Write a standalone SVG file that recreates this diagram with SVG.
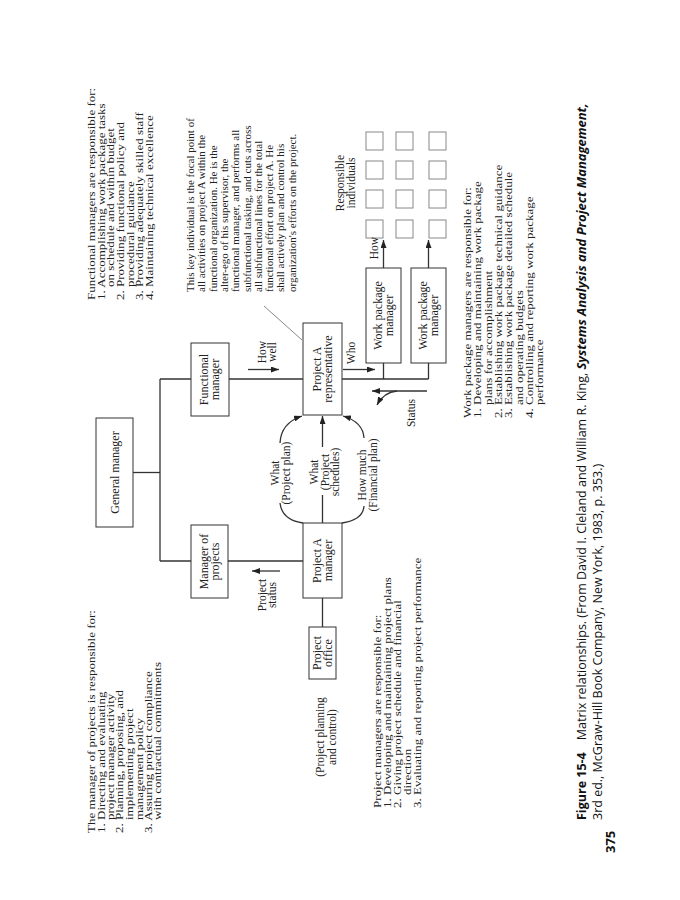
<svg xmlns="http://www.w3.org/2000/svg" width="680" height="900" viewBox="0 0 680 900">
<defs>
<marker id="ah" viewBox="0 0 8 6" refX="8" refY="3" markerWidth="8" markerHeight="6" orient="auto" markerUnits="userSpaceOnUse"><path d="M0,0 L8,3 L0,6 z" fill="#222"/></marker>
<style>
.box{fill:#fff;stroke:#333;stroke-width:1}
.ln{fill:none;stroke:#333;stroke-width:1.3}
.ar{fill:none;stroke:#333;stroke-width:1.3;marker-end:url(#ah)}
.sq{fill:#fff;stroke:#888;stroke-width:1}
.t{font-family:"Liberation Serif","Times New Roman",serif;font-size:11.5px;fill:#222}
.b{font-family:"Liberation Serif","Times New Roman",serif;font-size:12px;fill:#222;text-anchor:middle}
.k{font-family:"Liberation Serif","Times New Roman",serif;font-size:11px;fill:#222}
.n{font-family:"Liberation Serif","Times New Roman",serif;font-size:13px;fill:#222}
.c{text-anchor:middle}
.cap{font-family:"Open Sans","Liberation Sans",sans-serif;font-size:12.5px;fill:#111}
</style>
</defs>
<rect width="680" height="900" fill="#fff"/>
<g transform="matrix(0,-1,1,0,0,900)">
<g id="connectors">
<path class="ln" d="M427.5,133 L427.5,160"/>
<path class="ln" d="M521,160 L339,160"/>
<path class="ln" d="M521,160 L521,428.5"/>
<path class="ln" d="M339,160 L339,303"/>
<path class="ln" d="M537,383.5 L521,383.5"/>
<path class="ln" d="M537,428.5 L521,428.5"/>
<path class="ar" d="M632,383.5 L660,383.5"/>
<path class="ar" d="M632,428.5 L660,428.5"/>
<path class="ln" d="M302,322.5 L273,322.5"/>
<path class="ln" d="M377,322.5 L405,322.5"/>
<path class="ar" d="M453,322.5 L484,322.5"/>
<path class="ar" d="M457,280 Q477,281 484,302"/>
<path class="ln" d="M397,280 Q380,282 377,303"/>
<path class="ar" d="M462,364 Q478,363 484,343"/>
<path class="ln" d="M394,364 Q380,363 377,342"/>
<path class="ar" d="M530.5,248 L530.5,279"/>
<path class="ar" d="M530.5,343 L530.5,375"/>
<path class="ar" d="M329,280 L329,252"/>
<path class="ar" d="M509,427 L509,372"/>
<path class="ar" d="M509,397 Q508,384 495,377"/>
<path d="M594,264 L560,302" fill="none" stroke="#888" stroke-width="1"/>
</g>
<g id="general-manager"><rect class="box" x="373" y="96" width="109" height="37"/><text class="b" x="427.5" y="118.5">General manager</text></g>
<g id="functional-manager"><rect class="box" x="484" y="191" width="73" height="38"/><text class="b" x="520.5" y="208">Functional</text><text class="b" x="520.5" y="219">manager</text></g>
<g id="manager-of-projects"><rect class="box" x="302" y="191" width="73" height="37"/><text class="b" x="338.5" y="207.5">Manager of</text><text class="b" x="338.5" y="218.5">projects</text></g>
<g id="project-a-representative"><rect class="box" x="485" y="303" width="92" height="39"/><text class="b" x="531" y="320.5">Project A</text><text class="b" x="531" y="331.5">representative</text></g>
<g id="project-a-manager"><rect class="box" x="302" y="303" width="75" height="39"/><text class="b" x="339.5" y="320.5">Project A</text><text class="b" x="339.5" y="331.5">manager</text></g>
<g id="project-office"><rect class="box" x="221" y="309" width="52" height="27"/><text class="b" x="247" y="320.5">Project</text><text class="b" x="247" y="331.5">office</text></g>
<g id="work-package-manager-1"><rect class="box" x="537" y="366" width="95" height="35"/><text class="b" x="584.5" y="381.5">Work package</text><text class="b" x="584.5" y="392.5">manager</text></g>
<g id="work-package-manager-2"><rect class="box" x="537" y="411" width="95" height="35"/><text class="b" x="584.5" y="426.5">Work package</text><text class="b" x="584.5" y="437.5">manager</text></g>
<g id="responsible-individuals">
<rect class="sq" x="662" y="366" width="18" height="17"/><rect class="sq" x="692" y="366" width="18" height="17"/><rect class="sq" x="721" y="366" width="18" height="17"/><rect class="sq" x="750" y="366" width="18" height="17"/>
<rect class="sq" x="662" y="396" width="18" height="17"/><rect class="sq" x="692" y="396" width="18" height="17"/><rect class="sq" x="721" y="396" width="18" height="17"/><rect class="sq" x="750" y="396" width="18" height="17"/>
<rect class="sq" x="662" y="429" width="18" height="17"/><rect class="sq" x="692" y="429" width="18" height="17"/><rect class="sq" x="721" y="429" width="18" height="17"/><rect class="sq" x="750" y="429" width="18" height="17"/>
<text class="t c" x="717" y="344">Responsible</text><text class="t c" x="717" y="355">individuals</text>
</g>
<g id="labels">
<text class="t c" x="548" y="266">How</text><text class="t c" x="548" y="276">well</text>
<text class="t c" x="547" y="355">Who</text>
<text class="t c" x="305" y="266">Project</text><text class="t c" x="305" y="276">status</text>
<text class="t c" x="427" y="278.5">What</text><text class="t c" x="427" y="289.5">(Project plan)</text>
<text class="t c" x="428" y="317.5">What</text><text class="t c" x="428" y="328.5">(Project</text><text class="t c" x="428" y="339">schedules)</text>
<text class="t c" x="425" y="365.5">How much</text><text class="t c" x="425" y="376.5">(Financial plan)</text>
<text class="t c" x="487" y="415">Status</text>
<text class="t c" x="652" y="377.5">How</text>
<text class="t c" x="163" y="324">(Project planning</text><text class="t c" x="163" y="336">and control)</text>
</g>
<g id="functional-managers-note" class="n" transform="translate(600,95) scale(1,0.8)">
<text x="0" y="0">Functional managers are responsible for:</text>
<text x="0" y="12.1">1. Accomplishing work package tasks</text>
<text x="13" y="24.2">on schedule and within budget</text>
<text x="0" y="36.4">2. Providing functional policy and</text>
<text x="13" y="48.5">procedural guidance</text>
<text x="0" y="60.6">3. Providing adequately skilled staff</text>
<text x="0" y="72.7">4. Maintaining technical excellence</text>
</g>
<g id="key-individual-note" class="k">
<text x="608" y="194">This key individual is the focal point of</text>
<text x="608" y="205.3">all activities on project A within the</text>
<text x="608" y="216.6">functional organization.  He is the</text>
<text x="608" y="227.9">alter-ego of his supervisor, the</text>
<text x="608" y="239.2">functional manager, and performs all</text>
<text x="608" y="250.5">subfunctional tasking, and cuts across</text>
<text x="608" y="261.8">all subfunctional lines for the total</text>
<text x="608" y="273.1">functional effort on project A.  He</text>
<text x="608" y="284.4">shall actively plan and control his</text>
<text x="608" y="295.7">organization's efforts on the project.</text>
</g>
<g id="manager-of-projects-note" class="n" transform="translate(67,95) scale(1,0.8)">
<text x="0" y="0">The manager of projects is responsible for:</text>
<text x="0" y="11.9">1. Directing and evaluating</text>
<text x="13" y="23.8">project manager activity</text>
<text x="0" y="35.6">2. Planning, proposing, and</text>
<text x="13" y="47.5">implementing project</text>
<text x="13" y="59.4">management policy</text>
<text x="0" y="71.3">3. Assuring project compliance</text>
<text x="13" y="83.1">with contractual commitments</text>
</g>
<g id="project-managers-note" class="n" transform="translate(92,381) scale(1,0.8)">
<text x="0" y="0">Project managers are responsible for:</text>
<text x="0" y="12.5">1. Developing and maintaining project plans</text>
<text x="0" y="25">2. Giving project schedule and financial</text>
<text x="13" y="37.5">direction</text>
<text x="0" y="50">3. Evaluating and reporting project performance</text>
</g>
<g id="work-package-managers-note" class="n" transform="translate(482,471) scale(1,0.8)">
<text x="0" y="0">Work package managers are responsible for:</text>
<text x="0" y="12.9">1. Developing and maintaining work package</text>
<text x="13" y="25.8">plans for accomplishment</text>
<text x="0" y="38.6">2. Establishing work package technical guidance</text>
<text x="0" y="51.5">3. Establishing work package detailed schedule</text>
<text x="13" y="64.4">and operating budgets</text>
<text x="0" y="77.3">4. Controlling and reporting work package</text>
<text x="13" y="90.1">performance</text>
</g>
<g id="caption" class="cap">
<text x="80" y="586"><tspan font-weight="bold">Figure 15-4</tspan><tspan dx="12">Matrix relationships. (From David I. Cleland and William R. King, </tspan><tspan font-style="italic" font-weight="bold" font-size="13px">Systems Analysis and Project Management,</tspan></text>
<text x="80" y="602">3rd ed., McGraw-Hill Book Company, New York, 1983, p. 353.)</text>
<text x="47" y="615" font-weight="bold" font-size="13px">375</text>
</g>
</g>
</svg>
